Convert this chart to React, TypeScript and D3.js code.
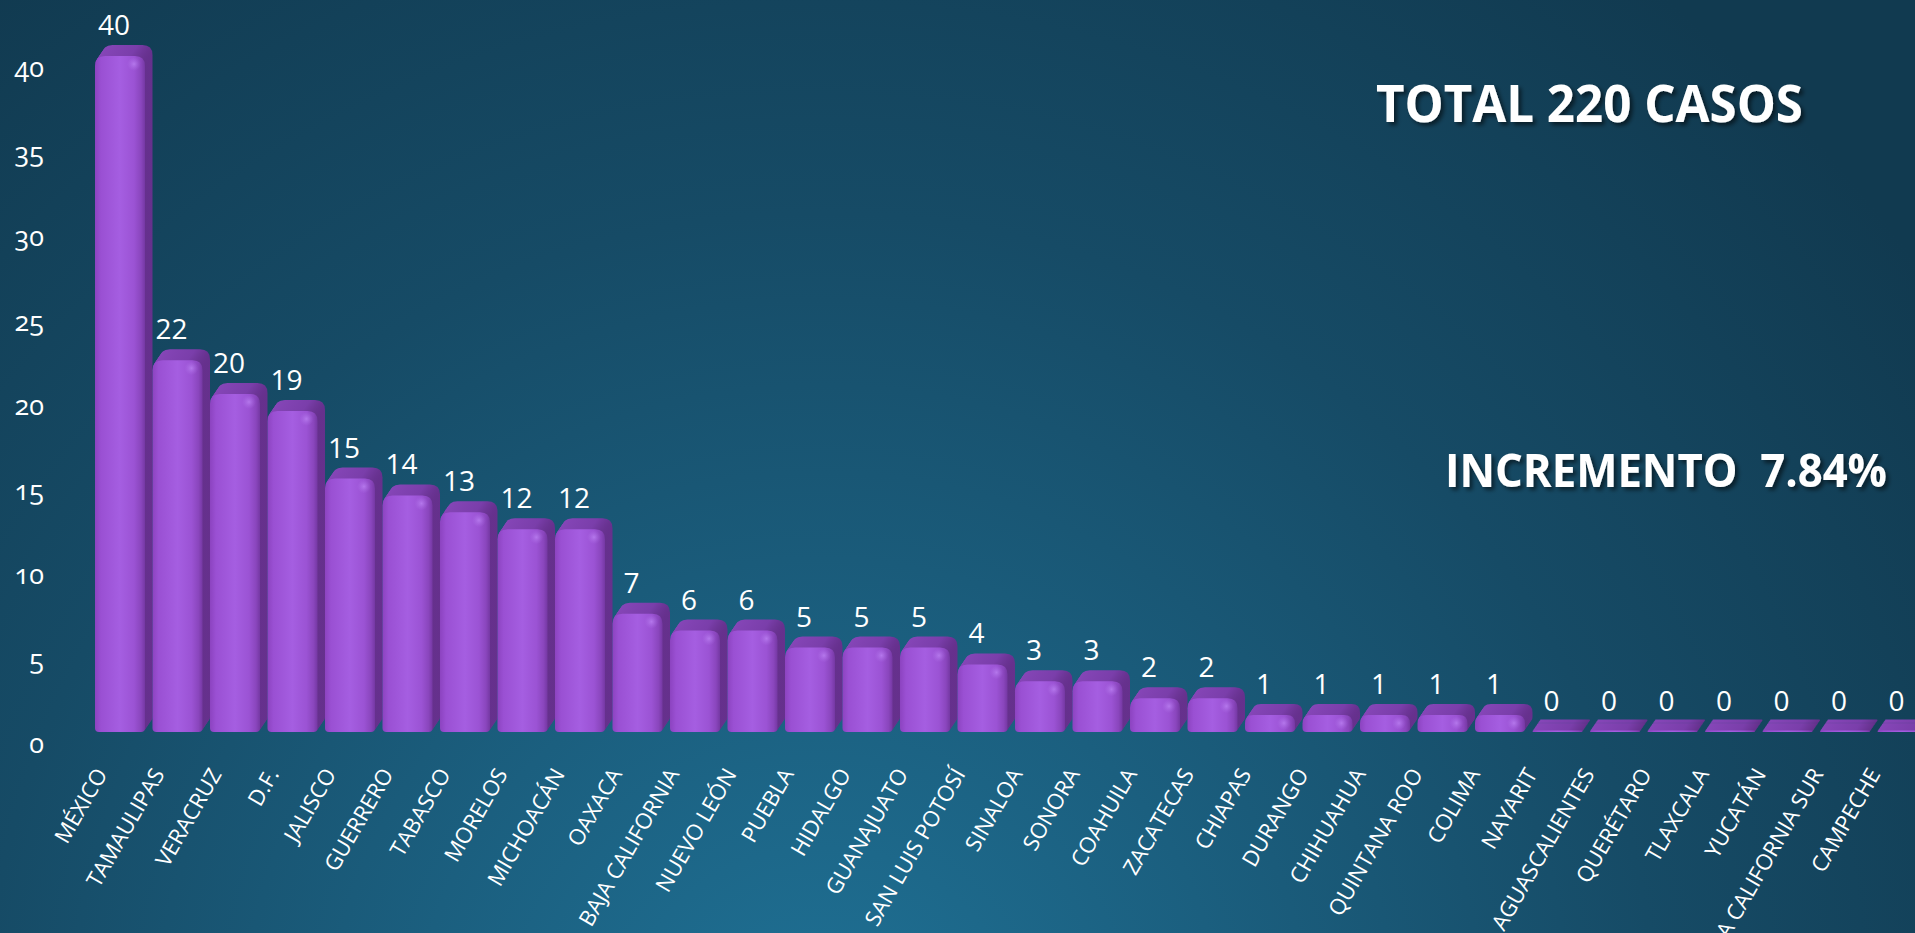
import React, { useEffect, useRef } from 'react';
import * as d3 from 'd3';

const W = 1915;
const H = 933;

const categories = [
  'MÉXICO', 'TAMAULIPAS', 'VERACRUZ', 'D.F.', 'JALISCO', 'GUERRERO', 'TABASCO', 'MORELOS',
  'MICHOACÁN', 'OAXACA', 'BAJA CALIFORNIA', 'NUEVO LEÓN', 'PUEBLA', 'HIDALGO', 'GUANAJUATO',
  'SAN LUIS POTOSÍ', 'SINALOA', 'SONORA', 'COAHUILA', 'ZACATECAS', 'CHIAPAS', 'DURANGO',
  'CHIHUAHUA', 'QUINTANA ROO', 'COLIMA', 'NAYARIT', 'AGUASCALIENTES', 'QUERÉTARO', 'TLAXCALA',
  'YUCATÁN', 'BAJA CALIFORNIA SUR', 'CAMPECHE',
];
const values = [
  40, 22, 20, 19, 15, 14, 13, 12, 12, 7, 6, 6, 5, 5, 5, 4, 3, 3, 2, 2, 1, 1, 1, 1, 1,
  0, 0, 0, 0, 0, 0, 0,
];
const yTickValues = [0, 5, 10, 15, 20, 25, 30, 35, 40];
const totalText = 'TOTAL 220 CASOS';
const incrementText = 'INCREMENTO  7.84%';

function roundedPath(x: number, y: number, w: number, h: number, r: number, rb: number) {
  const rr = Math.max(0, Math.min(r, h / 2, w / 2));
  const rbb = Math.max(0, Math.min(rb, h / 2, w / 2));
  return `M${x},${y + rr} Q${x},${y} ${x + rr},${y} L${x + w - rr},${y} Q${x + w},${y} ${x + w},${y + rr} ` +
    `L${x + w},${y + h - rbb} Q${x + w},${y + h} ${x + w - rbb},${y + h} L${x + rbb},${y + h} ` +
    `Q${x},${y + h} ${x},${y + h - rbb} Z`;
}

export default function App() {
  const ref = useRef<SVGSVGElement>(null);

  useEffect(() => {
    document.body.style.margin = '0';
    const svg = d3.select(ref.current);
    svg.selectAll('*').remove();

    const defs = svg.append('defs');

    const bg = defs.append('radialGradient').attr('id', 'bg')
      .attr('gradientUnits', 'userSpaceOnUse')
      .attr('cx', 820).attr('cy', 1050).attr('r', 1350);
    [['0', '#1f7195'], ['0.3', '#1b5f7f'], ['0.62', '#164b66'], ['1', '#113a50']].forEach(([o, c]) =>
      bg.append('stop').attr('offset', o).attr('stop-color', c));

    const front = defs.append('linearGradient').attr('id', 'front')
      .attr('x1', 0).attr('x2', 1).attr('y1', 0).attr('y2', 0);
    [['0', '#8c43c0'], ['0.12', '#9a50d3'], ['0.5', '#a55ee1'], ['0.78', '#9b53d4'],
      ['0.92', '#8a46bd'], ['1', '#7538a3']].forEach(([o, c]) =>
      front.append('stop').attr('offset', o).attr('stop-color', c));

    const side = defs.append('linearGradient').attr('id', 'side')
      .attr('x1', 0).attr('x2', 1).attr('y1', 0).attr('y2', 0);
    [['0', '#8646b8'], ['0.7', '#7a3eaa'], ['1', '#65308c']].forEach(([o, c]) =>
      side.append('stop').attr('offset', o).attr('stop-color', c));

    const spec = defs.append('radialGradient').attr('id', 'spec');
    spec.append('stop').attr('offset', '0').attr('stop-color', '#c995ff').attr('stop-opacity', 0.55);
    spec.append('stop').attr('offset', '1').attr('stop-color', '#b57aef').attr('stop-opacity', 0);

    const shadow = defs.append('filter').attr('id', 'shadow')
      .attr('x', '-10%').attr('y', '-30%').attr('width', '130%').attr('height', '180%');
    shadow.append('feDropShadow').attr('dx', 3).attr('dy', 3).attr('stdDeviation', 2)
      .attr('flood-color', '#000').attr('flood-opacity', 0.55);

    svg.append('rect').attr('x', 0).attr('y', 0).attr('width', W).attr('height', H).attr('fill', 'url(#bg)');

    const step = 57.5;
    const x = d3.scaleBand<string>().domain(categories)
      .range([95, 95 + step * categories.length]).padding(0);
    const xLabel = d3.scaleBand<string>().domain(categories)
      .range([108, 108 + 57.2 * categories.length]).padding(0);
    const y = d3.scaleLinear().domain([0, 40]).range([721, 45]);
    const base = 732;
    const dx = 7.5;
    const dy = 11;
    const fw = 50;

    // y tick labels
    svg.append('g').selectAll('text').data(yTickValues).join('text')
      .attr('x', 44).attr('y', (d) => y(d) + 32)
      .attr('text-anchor', 'end')
      .attr('fill', '#ffffff')
      .style('font-family', '"Open Sans", sans-serif')
      .style('font-size', '27px')
      .style('font-variant-numeric', 'oldstyle-nums')
      .text((d) => String(d));

    // bars
    const barsG = svg.append('g');
    categories.forEach((c, i) => {
      const v = values[i];
      const b = x(c) as number;
      const top = y(v) + dy;
      const h = Math.max(1.5, base - top);
      const fy = base - h;
      const g = barsG.append('g');
      const N = 12;
      for (let k = N; k >= 1; k--) {
        const t = k / N;
        g.append('path')
          .attr('d', roundedPath(b, fy, fw, h, 10, 4))
          .attr('transform', `translate(${dx * t},${-dy * t})`)
          .attr('fill', 'url(#side)');
      }
      g.append('path').attr('d', roundedPath(b, fy, fw, h, 10, 4)).attr('fill', 'url(#front)');
      if (v > 0) {
        g.append('circle').attr('cx', b + fw - 11).attr('cy', fy + 8).attr('r', 7)
          .attr('fill', 'url(#spec)');
      }
    });

    // value labels
    svg.append('g').selectAll('text').data(categories).join('text')
      .attr('x', (d) => (x(d) as number) + 19)
      .attr('y', (d, i) => y(values[i]) - 10)
      .attr('text-anchor', 'middle')
      .attr('fill', '#ffffff')
      .style('font-family', '"Open Sans", sans-serif')
      .style('font-size', '28px')
      .text((d, i) => String(values[i]));

    // category labels
    svg.append('g').selectAll('text').data(categories).join('text')
      .attr('transform', (d) => `translate(${xLabel(d) as number},774) rotate(-60)`)
      .attr('text-anchor', 'end')
      .attr('fill', '#ffffff')
      .style('font-family', '"Open Sans", sans-serif')
      .style('font-size', '22px')
      .text((d) => d);

    // headline texts
    svg.append('text')
      .attr('x', 1376).attr('y', 122)
      .attr('fill', '#ffffff')
      .attr('filter', 'url(#shadow)')
      .attr('textLength', 427).attr('lengthAdjust', 'spacingAndGlyphs')
      .style('font-family', '"Open Sans", sans-serif')
      .style('font-weight', '700')
      .style('font-size', '52px')
      .text(totalText);

    svg.append('text')
      .attr('x', 1445).attr('y', 487)
      .attr('fill', '#ffffff')
      .attr('filter', 'url(#shadow)')
      .attr('textLength', 442).attr('lengthAdjust', 'spacingAndGlyphs')
      .style('white-space', 'pre')
      .style('font-family', '"Open Sans", sans-serif')
      .style('font-weight', '700')
      .style('font-size', '46px')
      .text(incrementText);
  }, []);

  return (
    <svg ref={ref} width={W} height={H} style={{ display: 'block', position: 'absolute', left: 0, top: 0 }} />
  );
}
